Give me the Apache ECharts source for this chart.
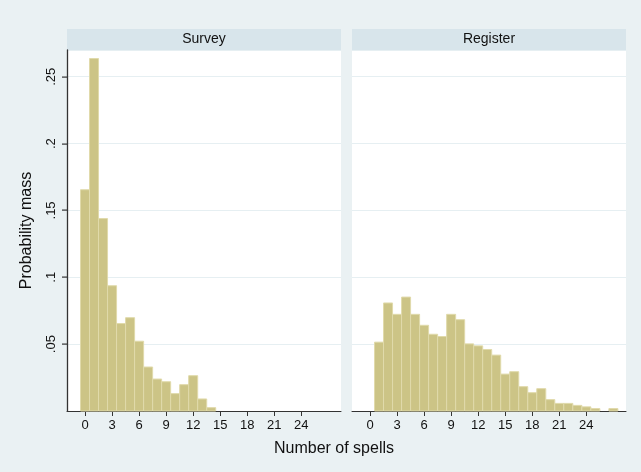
<!DOCTYPE html>
<html>
<head>
<meta charset="utf-8">
<script src="https://cdn.jsdelivr.net/npm/echarts@6/dist/echarts.min.js"></script>
<style>
html,body{margin:0;padding:0;background:#eaf1f3;}
#chart{width:641px;height:472px;}
</style>
</head>
<body>
<div id="chart"></div>
<script>
// ---- data ----
const panelTitles = ['Survey', 'Register'];
const surveySpells = [0,1,2,3,4,5,6,7,8,9,10,11,12,13,14];
const surveyMass = [0.1655,0.2636,0.1439,0.0937,0.0654,0.0698,0.0522,0.0329,0.0239,0.0219,0.0130,0.0197,0.0264,0.0090,0.0025];
const registerSpells = [1,2,3,4,5,6,7,8,9,10,11,12,13,14,15,16,17,18,19,20,21,22,23,24,25,26,27];
const registerMass = [0.0515,0.0808,0.0723,0.0852,0.0723,0.0641,0.0574,0.0557,0.0723,0.0683,0.0502,0.0487,0.0460,0.0418,0.0276,0.0294,0.0182,0.0137,0.0167,0.0085,0.0057,0.0057,0.0042,0.0031,0.0018,0,0.0018];
const xTicks = [0,3,6,9,12,15,18,21,24];
const yTicks = [0.05,0.10,0.15,0.20,0.25];
const xTitle = 'Number of spells';
const yTitle = 'Probability mass';

const X_MIN = -2, X_MAX = 28.4, Y_MAX = 0.27;
const FONT = 'Liberation Sans, Arial, sans-serif';
const AXIS_COLOR = '#333333';
const chart = echarts.init(document.getElementById('chart'));

function toPairs(xs, ys){ return xs.map((x,i)=>[x, ys[i]]); }

function renderBar(params, api){
  const x = api.value(0), y = api.value(1);
  if (!y) return null;
  const p0 = api.coord([x - 0.5, y]);
  const p1 = api.coord([x + 0.5, 0]);
  return {
    type: 'rect',
    shape: { x: p0[0], y: p0[1], width: p1[0] - p0[0], height: p1[1] - p0[1] },
    style: { fill: '#ccc486', stroke: '#e0daab', lineWidth: 1 }
  };
}

// y-axis tick marks, placed through the y scale at the left end of the x axis
function renderYTick(params, api){
  const v = api.value(1);
  const p = api.coord([X_MIN, v]);
  return {
    type: 'rect',
    shape: { x: Math.round(p[0]) - 5, y: Math.round(p[1]) - 0.5, width: 5, height: 1.2 },
    style: { fill: AXIS_COLOR }
  };
}

const grids = [
  { left: 67, top: 50, width: 274, height: 361, show: true, backgroundColor: '#ffffff', borderWidth: 0 },
  { left: 352, top: 50, width: 274, height: 361, show: true, backgroundColor: '#ffffff', borderWidth: 0 }
];

function fmtY(v){
  return String(Math.round(v*100)/100).replace(/^0\./, '.');
}

const xAxes = grids.map((g, i) => ({
  type: 'value', gridIndex: i, min: X_MIN, max: X_MAX,
  axisLine: { show: true, onZero: false, lineStyle: { color: AXIS_COLOR, width: 1 } },
  axisTick: { show: true, customValues: xTicks, length: 5, lineStyle: { color: AXIS_COLOR } },
  axisLabel: { show: true, customValues: xTicks, margin: 8, fontSize: 13, color: '#111', fontFamily: FONT },
  splitLine: { show: false }
}));

const yAxes = [0, 1].map(i => ({
  type: 'value', gridIndex: i, min: 0, max: Y_MAX, interval: 0.05, position: 'left',
  name: i === 0 ? yTitle : '',
  nameLocation: 'middle', nameGap: 32,
  nameTextStyle: { fontSize: 16, color: '#111', fontFamily: FONT },
  axisLine: { show: i === 0, onZero: false, lineStyle: { color: AXIS_COLOR, width: 1.3 } },
  axisTick: { show: false },
  axisLabel: { show: i === 0, rotate: 90, margin: 9, fontSize: 13, color: '#111', fontFamily: FONT, formatter: fmtY, showMinLabel: false, showMaxLabel: false },
  splitLine: { show: true, lineStyle: { color: '#e6eff2', width: 1 } }
}));

const graphics = [];
grids.forEach((g, i) => {
  graphics.push({
    type: 'rect', left: g.left, top: 29, z: 0,
    shape: { width: g.width, height: 21 },
    style: { fill: '#d8e5eb' }
  });
  graphics.push({
    type: 'text', x: g.left + g.width/2, y: 39.5, z: 1,
    style: { text: panelTitles[i], fill: '#111', font: '14px ' + FONT, textAlign: 'center', textVerticalAlign: 'middle' }
  });
});
graphics.push({
  type: 'text', x: 334, y: 449,
  style: { text: xTitle, fill: '#111', font: '16px ' + FONT, textAlign: 'center', textVerticalAlign: 'middle' }
});

chart.setOption({
  backgroundColor: '#eaf1f3',
  animation: false,
  grid: grids,
  xAxis: xAxes,
  yAxis: yAxes,
  graphic: graphics,
  series: [
    { type: 'custom', xAxisIndex: 0, yAxisIndex: 0, renderItem: renderBar, data: toPairs(surveySpells, surveyMass), encode: { x: 0, y: 1 } },
    { type: 'custom', xAxisIndex: 1, yAxisIndex: 1, renderItem: renderBar, data: toPairs(registerSpells, registerMass), encode: { x: 0, y: 1 } },
    { type: 'custom', xAxisIndex: 0, yAxisIndex: 0, clip: false, silent: true, z: 5, renderItem: renderYTick, data: yTicks.map(v => [X_MIN, v]), encode: { x: 0, y: 1 } }
  ]
});
</script>
</body>
</html>
